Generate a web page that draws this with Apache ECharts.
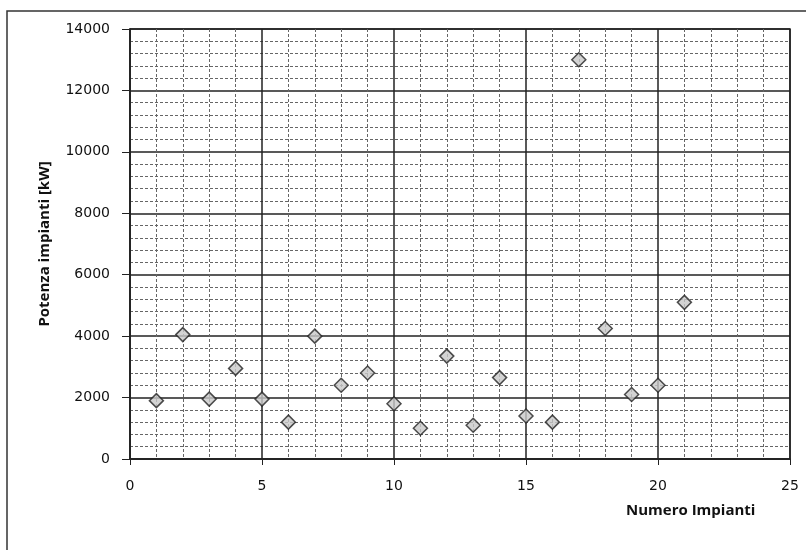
<!DOCTYPE html>
<html>
<head>
<meta charset="utf-8">
<script src="https://cdn.jsdelivr.net/npm/echarts@6/dist/echarts.min.js"></script>
<style>
  html, body { margin: 0; padding: 0; background: #fff; }
  #chart { width: 806px; height: 550px; }
</style>
</head>
<body>
<div id="chart"></div>
<script>
// numero impianti / potenza [kW]
const impianti = [1, 2, 3, 4, 5, 6, 7, 8, 9, 10, 11, 12, 13, 14, 15, 16, 17, 18, 19, 20, 21];
const potenza = [1900, 4050, 1950, 2950, 1950, 1200, 4000, 2400, 2800, 1800, 1000, 3350, 1100, 2650, 1400, 1200, 13000, 4250, 2100, 2400, 5100];

const points = impianti.map((n, i) => [n, potenza[i]]);

const titleFont = "'Open Sans', 'Liberation Sans', sans-serif";

const chart = echarts.init(document.getElementById("chart"));
chart.setOption({
  animation: false,
  grid: { left: 130, right: 16, top: 29, bottom: 91, show: true, borderColor: "#222", borderWidth: 1.5 },
  graphic: [
    {
      type: "polyline",
      shape: { points: [[7, 550], [7, 11], [806, 11]] },
      style: { stroke: "#333", lineWidth: 1.5, fill: null }
    },
    {
      type: "text",
      left: 626,
      top: 503,
      style: { text: "Numero Impianti", font: "bold 15px " + titleFont, fill: "#111" }
    }
  ],
  xAxis: {
    type: "value",
    min: 0,
    max: 25,
    interval: 5,
    axisLine: { lineStyle: { color: "#222", width: 1.5 } },
    axisTick: { show: true, length: 6, lineStyle: { color: "#222" } },
    axisLabel: { margin: 20, color: "#111", fontSize: 14, fontFamily: "DejaVu Sans" },
    splitLine: { show: true, lineStyle: { color: "#222", width: 1.5 } },
    minorTick: { show: false, splitNumber: 5 },
    minorSplitLine: { show: true, lineStyle: { color: "#666", width: 1, type: [3, 2] } }
  },
  yAxis: {
    type: "value",
    min: 0,
    max: 14000,
    interval: 2000,
    name: "Potenza impianti [kW]",
    nameLocation: "middle",
    nameGap: 78,
    nameTextStyle: { fontSize: 15, fontWeight: "bold", fontFamily: titleFont, color: "#111" },
    axisLine: { show: true, lineStyle: { color: "#222", width: 1.5 } },
    axisTick: { show: true, length: 8, lineStyle: { color: "#222" } },
    axisLabel: { margin: 20, color: "#111", fontSize: 14, fontFamily: "DejaVu Sans", formatter: (v) => String(v) },
    splitLine: { show: true, lineStyle: { color: "#222", width: 1.5 } },
    minorTick: { show: false, splitNumber: 5 },
    minorSplitLine: { show: true, lineStyle: { color: "#666", width: 1, type: [3, 2] } }
  },
  series: [
    {
      type: "scatter",
      data: points,
      symbol: "diamond",
      symbolSize: 14,
      itemStyle: { color: "#c8c8c8", borderColor: "#222", borderWidth: 1.5 }
    }
  ]
});
</script>
</body>
</html>
